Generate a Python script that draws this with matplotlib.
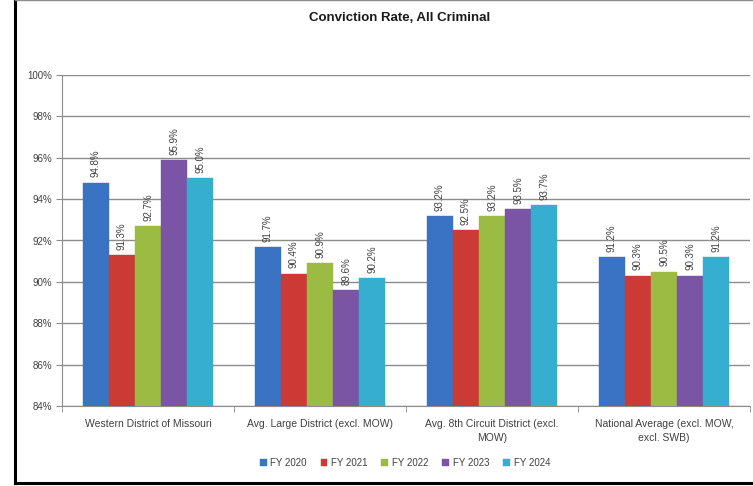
import matplotlib
matplotlib.use("Agg")
import matplotlib.pyplot as plt
import numpy as np
from matplotlib.lines import Line2D

plt.rcParams["font.family"] = ["Liberation Sans Narrow", "Liberation Sans", "DejaVu Sans"]

kategori = [
    "Western District of Missouri",
    "Avg. Large District (excl. MOW)",
    "Avg. 8th Circuit District (excl.\nMOW)",
    "National Average (excl. MOW,\nexcl. SWB)",
]
tahun = ["FY 2020", "FY 2021", "FY 2022", "FY 2023", "FY 2024"]
nilai = {
    "FY 2020": [94.8, 91.7, 93.2, 91.2],
    "FY 2021": [91.3, 90.4, 92.5, 90.3],
    "FY 2022": [92.7, 90.9, 93.2, 90.5],
    "FY 2023": [95.9, 89.6, 93.5, 90.3],
    "FY 2024": [95.0, 90.2, 93.7, 91.2],
}
yticks = [84, 86, 88, 90, 92, 94, 96, 98, 100]

warna = ["#3A73C3", "#CC3A36", "#9BBB43", "#7A54A5", "#35AECF"]
teks = "#404040"

fig = plt.figure(figsize=(7.53, 4.86), dpi=100)
ax = fig.add_axes([62 / 753, 80 / 486, 688 / 753, 331 / 486])

x = np.arange(len(kategori))
lebar = 0.152
for i, th in enumerate(tahun):
    pos = x + (i - 2) * lebar
    bars = ax.bar(pos, nilai[th], lebar, bottom=0, color=warna[i], label=th,
                  zorder=3, edgecolor=warna[i], linewidth=0.3)
    for b, v in zip(bars, nilai[th]):
        ax.text(b.get_x() + b.get_width() / 2, v + 0.25, f"{v:.1f}%",
                rotation=90, ha="center", va="bottom", fontsize=7,
                color=teks, zorder=4)

ax.set_ylim(84, 100)
ax.set_xlim(-0.5, len(kategori) - 0.5)
ax.set_yticks(yticks)
ax.set_yticklabels([f"{t}%" for t in yticks], fontsize=7, color=teks)
ax.yaxis.grid(True, color="#8c8c8c", linewidth=1.0, zorder=0)
ax.set_axisbelow(True)

ax.set_xticks(x)
ax.set_xticklabels(kategori, fontsize=7.5, color=teks, linespacing=1.6)
ax.tick_params(axis="x", length=0, pad=9)
ax.set_xticks(np.arange(len(kategori) + 1) - 0.5, minor=True)
ax.tick_params(axis="x", which="minor", length=4, color="#8c8c8c")
ax.tick_params(axis="y", length=4, color="#8c8c8c", pad=3)

for s in ["top", "right"]:
    ax.spines[s].set_visible(False)
ax.spines["left"].set_color("#8c8c8c")
ax.spines["bottom"].set_color("#8c8c8c")

fig.text(400 / 753, 1 - 18 / 486, "Conviction Rate, All Criminal",
         ha="center", va="center", fontsize=9.5, fontweight="bold", color="#1a1a1a")

leg = fig.legend(loc="center", bbox_to_anchor=(405 / 753, 1 - 463 / 486), ncol=5,
                 frameon=False, fontsize=7, handlelength=0.7, handleheight=0.7,
                 handletextpad=0.4, columnspacing=1.4)
for t in leg.get_texts():
    t.set_color(teks)

# bingkai grafik
fig.add_artist(Line2D([15 / 753, 15 / 753], [3 / 486, 1], color="black", lw=2.2,
                      transform=fig.transFigure))
fig.add_artist(Line2D([15 / 753, 1], [3 / 486, 3 / 486], color="black", lw=2.2,
                      transform=fig.transFigure))
fig.add_artist(Line2D([15 / 753, 1], [1 - 0.5 / 486, 1 - 0.5 / 486], color="#8c8c8c",
                      lw=1, transform=fig.transFigure))

fig.savefig("out.png", dpi=100)
